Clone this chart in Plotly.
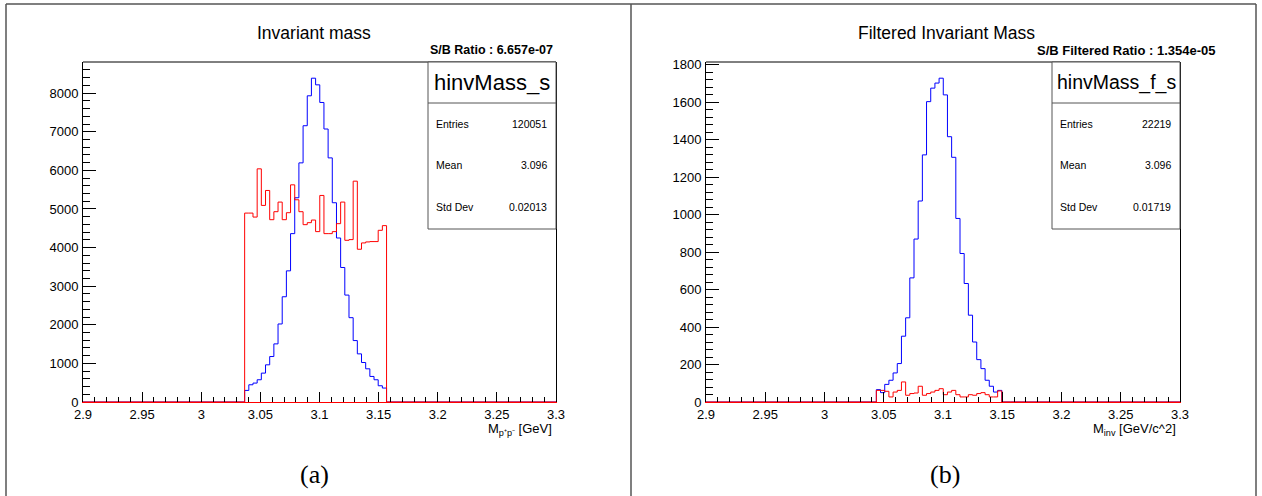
import plotly.graph_objects as go

W, H = 1262, 496

# Histogram binning: 34 equal bins over the J/psi mass window
bin_lo = 3.0367
bin_hi = 3.1567
n_bins = 34
x_min, x_max = 2.9, 3.3

# (a) all candidates: signal (blue) and scaled background (red)
signal_all = [300, 446, 490, 576, 748, 963, 1178, 1505, 2021, 2726, 3397, 4361,
              5290, 6194, 7156, 7931, 8387, 8215, 7758, 7071, 6323, 5161, 4248,
              3484, 2769, 2184, 1591, 1247, 1023, 860, 662, 576, 421, 361]
background_all = [4893, 4893, 4790, 6039, 5092, 5479, 4722, 4929, 5178, 4722,
                  4903, 5625, 5238, 4929, 4593, 4645, 4713, 4413, 5350, 4361,
                  4361, 4413, 4619, 5178, 4188, 4206, 5720, 3956, 4120, 4146,
                  4155, 4155, 4447, 4568]

# (b) after selection cuts
signal_filtered = [0, 0, 66, 50, 94, 116, 155, 205, 351, 449, 662, 869, 1072,
                   1318, 1602, 1674, 1701, 1727, 1638, 1415, 1305, 979, 792,
                   632, 463, 320, 226, 178, 116, 84, 53, 62, 0, 0]
background_filtered = [0, 0, 62, 62, 57, 27, 53, 62, 107, 36, 45, 48, 84, 36,
                       45, 53, 62, 71, 39, 53, 62, 39, 27, 27, 39, 36, 45, 50,
                       39, 27, 27, 59, 0, 0]

x_tick_vals = [2.9, 2.95, 3.0, 3.05, 3.1, 3.15, 3.2, 3.25, 3.3]
x_tick_text = ["2.9", "2.95", "3", "3.05", "3.1", "3.15", "3.2", "3.25", "3.3"]
y_ticks_a = [0, 1000, 2000, 3000, 4000, 5000, 6000, 7000, 8000]
y_ticks_b = [0, 200, 400, 600, 800, 1000, 1200, 1400, 1600, 1800]

stats_a = [("Entries", "120051"), ("Mean", "3.096"), ("Std Dev", "0.02013")]
stats_b = [("Entries", "22219"), ("Mean", "3.096"), ("Std Dev", "0.01719")]

SANS = "Liberation Sans, Arial, sans-serif"
SERIF = "Liberation Serif, Times New Roman, serif"


def px(x):
    return x / W


def py(y):
    return 1 - y / H


def step_xy(values):
    width = (bin_hi - bin_lo) / n_bins
    xs = [x_min] + [bin_lo + i * width for i in range(n_bins)] + [bin_hi, x_max]
    ys = [0] + list(values) + [0, 0]
    return xs, ys


# pixel frames of the two pads: (left, right, top, bottom)
frames = [(83, 556, 62, 402), (706, 1180, 62, 402)]

fig = go.Figure()

for idx, (sig, bkg) in enumerate([(signal_all, background_all),
                                  (signal_filtered, background_filtered)]):
    xa = "x" if idx == 0 else "x2"
    ya = "y" if idx == 0 else "y2"
    for vals, col in ((sig, "#0000ff"), (bkg, "#ff0000")):
        xs, ys = step_xy(vals)
        fig.add_trace(go.Scatter(x=xs, y=ys, mode="lines", line_shape="hv",
                                 line=dict(color=col, width=1),
                                 xaxis=xa, yaxis=ya, showlegend=False,
                                 hoverinfo="skip"))

common_x = dict(range=[x_min, x_max], showgrid=False, zeroline=False,
                showline=True, linecolor="#ff0000", linewidth=1,
                ticks="inside", ticklen=10, tickwidth=1, tickcolor="black",
                tickmode="array", tickvals=x_tick_vals, ticktext=x_tick_text,
                automargin=False,
                tickfont=dict(family=SANS, size=13, color="black"),
                minor=dict(ticks="inside", ticklen=5, tickwidth=1,
                           tickcolor="black", tickmode="linear",
                           tick0=2.9, dtick=0.01, showgrid=False))

common_y = dict(showgrid=False, zeroline=False, showline=True,
                linecolor="black", linewidth=1, mirror=True,
                ticks="inside", ticklen=13, tickwidth=1, tickcolor="black",
                tickmode="array", ticklabelstandoff=1, automargin=False,
                tickfont=dict(family=SANS, size=13, color="black"))

ymax_a = 1.05 * max(max(signal_all), max(background_all))
ymax_b = 1.05 * max(max(signal_filtered), max(background_filtered))

fl, fr, ft, fb = frames[0]
gl, gr, gt, gb = frames[1]
fig.update_layout(
    xaxis=dict(domain=[px(fl), px(fr)], anchor="y", **common_x),
    yaxis=dict(domain=[py(fb), py(ft)], anchor="x", range=[0, ymax_a],
               tickvals=y_ticks_a,
               minor=dict(ticks="inside", ticklen=7, tickwidth=1,
                          tickcolor="black", tickmode="linear", tick0=0,
                          dtick=200, showgrid=False),
               **common_y),
    xaxis2=dict(domain=[px(gl), px(gr)], anchor="y2", **common_x),
    yaxis2=dict(domain=[py(gb), py(gt)], anchor="x2", range=[0, ymax_b],
                tickvals=y_ticks_b,
                minor=dict(ticks="inside", ticklen=7, tickwidth=1,
                           tickcolor="black", tickmode="linear", tick0=0,
                           dtick=40, showgrid=False),
                **common_y),
)

shapes = []
annotations = []

# outer table borders
border = dict(color="#555555", width=1.5)
shapes.append(dict(type="line", xref="paper", yref="paper",
                   x0=px(6), x1=px(1256), y0=py(4), y1=py(4), line=border))
for xb in (6, 631, 1256):
    shapes.append(dict(type="line", xref="paper", yref="paper",
                       x0=px(xb), x1=px(xb), y0=py(4), y1=0, line=border))

# top edge of each frame
for (l, r, t, b) in frames:
    shapes.append(dict(type="line", xref="paper", yref="paper",
                       x0=px(l), x1=px(r), y0=py(t), y1=py(t),
                       line=dict(color="black", width=1)))

panels = [
    dict(title="Invariant mass", title_x=314,
         ratio="S/B Ratio : 6.657e-07", ratio_right=555, ratio_size=12.5,
         box=(428, 556), box_title="hinvMass_s", box_title_size=22,
         stats=stats_a,
         xtitle="M<sub>p⁺p⁻</sub> [GeV]", xtitle_right=554,
         caption="(a)", caption_x=314),
    dict(title="Filtered Invariant Mass", title_x=946,
         ratio="S/B Filtered Ratio : 1.354e-05", ratio_right=1217,
         ratio_size=13,
         box=(1052, 1180), box_title="hinvMass_f_s", box_title_size=19.5,
         stats=stats_b,
         xtitle="M<sub>inv</sub> [GeV/c^2]", xtitle_right=1178,
         caption="(b)", caption_x=945),
]

box_top, box_sep, box_bottom = 62, 103, 229
row_y = [124, 165, 207]

for p in panels:
    annotations.append(dict(text=p["title"], x=px(p["title_x"]), y=py(33),
                            xref="paper", yref="paper", showarrow=False,
                            xanchor="center", yanchor="middle",
                            font=dict(family=SANS, size=17.5, color="black")))
    annotations.append(dict(text="<b>" + p["ratio"] + "</b>",
                            x=px(p["ratio_right"]), y=py(50),
                            xref="paper", yref="paper", showarrow=False,
                            xanchor="right", yanchor="middle",
                            font=dict(family=SANS, size=p["ratio_size"],
                                      color="black")))
    bl, br = p["box"]
    shapes.append(dict(type="rect", xref="paper", yref="paper",
                       x0=px(bl), x1=px(br), y0=py(box_bottom), y1=py(box_top),
                       fillcolor="white", line=dict(color="#555555", width=1)))
    shapes.append(dict(type="line", xref="paper", yref="paper",
                       x0=px(bl), x1=px(br), y0=py(box_sep), y1=py(box_sep),
                       line=dict(color="#555555", width=1)))
    annotations.append(dict(text=p["box_title"], x=px((bl + br) / 2),
                            y=py((box_top + box_sep) / 2),
                            xref="paper", yref="paper", showarrow=False,
                            xanchor="center", yanchor="middle",
                            font=dict(family=SANS, size=p["box_title_size"],
                                      color="black")))
    for (label, value), yr in zip(p["stats"], row_y):
        annotations.append(dict(text=label, x=px(bl + 6), y=py(yr),
                                xref="paper", yref="paper", showarrow=False,
                                xanchor="left", yanchor="middle",
                                font=dict(family=SANS, size=10.5, color="black")))
        annotations.append(dict(text=value, x=px(br - 7), y=py(yr),
                                xref="paper", yref="paper", showarrow=False,
                                xanchor="right", yanchor="middle",
                                font=dict(family=SANS, size=10.5, color="black")))
    annotations.append(dict(text=p["xtitle"], x=px(p["xtitle_right"]),
                            y=py(429), xref="paper", yref="paper",
                            showarrow=False, xanchor="right", yanchor="middle",
                            font=dict(family=SANS, size=13, color="black")))
    annotations.append(dict(text=p["caption"], x=px(p["caption_x"]), y=py(474),
                            xref="paper", yref="paper", showarrow=False,
                            xanchor="center", yanchor="middle",
                            font=dict(family=SERIF, size=26, color="black")))

fig.update_layout(
    width=W, height=H,
    margin=dict(l=0, r=0, t=0, b=0, pad=0, autoexpand=False),
    paper_bgcolor="white", plot_bgcolor="white",
    showlegend=False,
    shapes=shapes, annotations=annotations,
)

fig.write_html("out.html")
